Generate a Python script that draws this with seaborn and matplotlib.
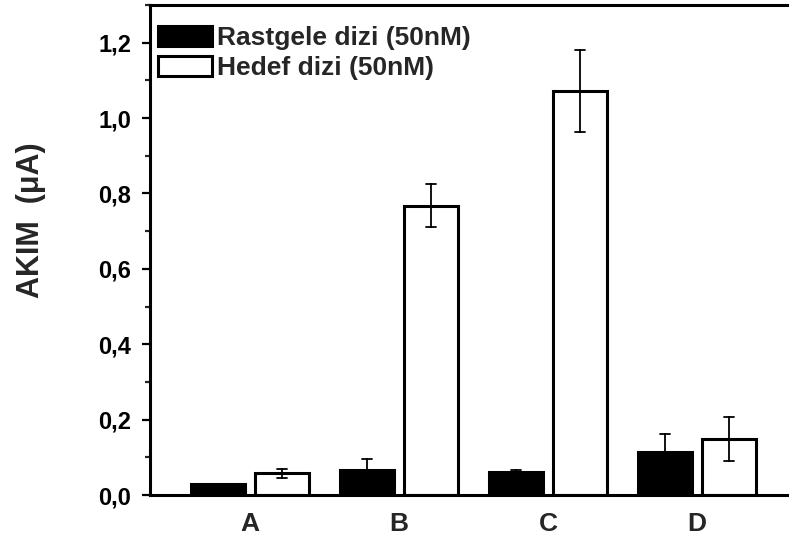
import matplotlib
matplotlib.use("Agg")
import matplotlib.pyplot as plt
from matplotlib.ticker import MultipleLocator, FuncFormatter
import numpy as np
import pandas as pd
import seaborn as sns

# Measured current (µA) for each probe, mean and half-width of error bar
gruplar = ["A", "B", "C", "D"]
seriler = ["Rastgele dizi (50nM)", "Hedef dizi (50nM)"]
rastgele = [0.029, 0.066, 0.060, 0.114]
rastgele_hata = [0.0, 0.030, 0.006, 0.047]
hedef = [0.058, 0.768, 1.071, 0.149]
hedef_hata = [0.012, 0.057, 0.109, 0.058]
y_ticks = [0.0, 0.2, 0.4, 0.6, 0.8, 1.0, 1.2]

# Long-form table: each bar is represented by its lower and upper error limit,
# so the mean gives the bar height and min/max give the error bar.
rows = []
for seri, ort, hata in [(seriler[0], rastgele, rastgele_hata),
                        (seriler[1], hedef, hedef_hata)]:
    for g, m, e in zip(gruplar, ort, hata):
        rows.append({"grup": g, "seri": seri, "akim": m - e})
        rows.append({"grup": g, "seri": seri, "akim": m + e})
df = pd.DataFrame(rows)

sns.set_style("ticks")
plt.rcParams["font.family"] = ["Liberation Sans", "DejaVu Sans"]
plt.rcParams["font.weight"] = "bold"

fig = plt.figure(figsize=(7.89, 5.42), dpi=100)
fig.patch.set_facecolor("white")
W, H = 789.0, 542.0
ax = fig.add_axes([150 / W, 47 / H, 647 / W, 490 / H])

sns.barplot(
    data=df, x="grup", y="akim", hue="seri",
    order=gruplar, hue_order=seriler,
    palette=["black", "white"],
    estimator="mean",
    errorbar=lambda v: (v.min(), v.max()),
    width=0.86, gap=0.16,
    edgecolor="black", linewidth=2.2,
    capsize=0.13,
    err_kws={"color": "black", "linewidth": 1.3},
    ax=ax,
)

ax.set_xlim(-0.67, 3.67)
ax.set_ylim(0, 1.30)
ax.set_yticks(y_ticks)
ax.yaxis.set_minor_locator(MultipleLocator(0.1))
ax.yaxis.set_major_formatter(FuncFormatter(lambda v, p: f"{v:.1f}".replace(".", ",")))

for sp in ax.spines.values():
    sp.set_linewidth(2.2)
    sp.set_color("black")

ax.tick_params(axis="y", which="major", direction="out", length=5.5, width=1.6,
               labelsize=17, pad=8, colors="black")
ax.tick_params(axis="y", which="minor", direction="out", length=3.5, width=1.6)
ax.tick_params(axis="x", length=0, labelsize=19, pad=12)
for lab in ax.get_xticklabels() + ax.get_yticklabels():
    lab.set_fontweight("bold")

ax.set_xlabel("")
ax.set_ylabel("AKIM  (μA)", fontsize=22, fontweight="bold")
ax.yaxis.set_label_coords(-0.16, 0.561)

leg = ax.legend(
    loc="upper left", bbox_to_anchor=(8 / 647, 0.957),
    frameon=False, borderpad=0, borderaxespad=0,
    handlelength=2.05, handleheight=0.8, handletextpad=0.2,
    labelspacing=0.2,
    prop={"family": "Liberation Sans", "weight": "bold", "size": 19},
)

fig.savefig("out.png", dpi=100, facecolor="white")
